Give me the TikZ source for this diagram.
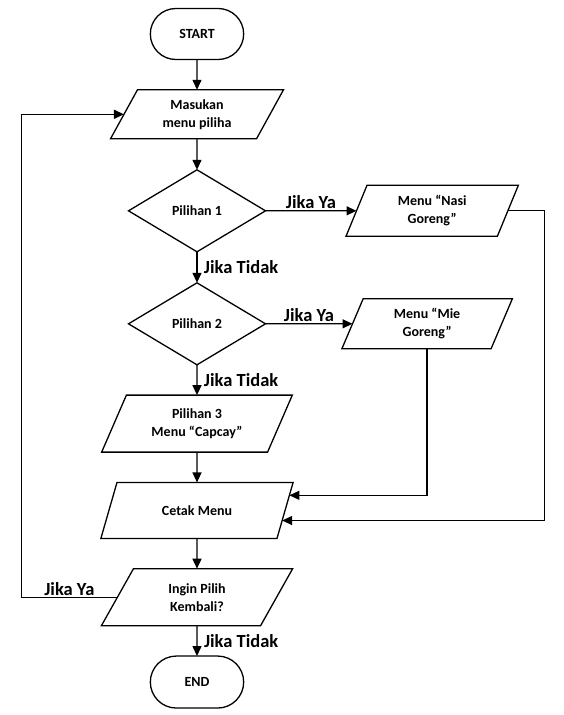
\documentclass[tikz,border=0pt]{standalone}
\usepackage{fontspec}
\setmainfont{Carlito}
\usetikzlibrary{positioning,arrows.meta,shapes.geometric,shapes.misc,calc}
\tikzset{
  every node/.style={outer sep=0pt},
  term/.style={draw, rounded rectangle, minimum width=100pt, minimum height=51pt, line width=1.3pt, font=\fontsize{14}{18}\selectfont\bfseries},
  io/.style={draw, trapezium, trapezium left angle=65, trapezium right angle=115, trapezium stretches=true, line width=1.3pt, align=center, font=\fontsize{14}{18}\selectfont\bfseries},
  ioR/.style={io, trapezium left angle=72, trapezium right angle=108},
  dec/.style={draw, diamond, minimum width=137pt, minimum height=82pt, inner sep=0pt, line width=1.3pt, font=\fontsize{14}{18}\selectfont\bfseries},
  lbl/.style={font=\fontsize{18.5}{20}\selectfont\bfseries, inner sep=2pt},
  arr/.style={-{Triangle[length=10pt, width=9pt]}, line width=1.3pt},
}
\begin{document}
\begin{tikzpicture}[node distance=30.3pt]
\useasboundingbox (-197pt,34pt) rectangle (366pt,-681pt);
\node[term] (start) {START};
\node[io, below=of start, minimum width=173pt, minimum height=49pt] (input) {Masukan\\menu piliha};
\node[dec, below=31pt of input] (p1) {Pilihan 1};
\node[dec, below=31pt of p1] (p2) {Pilihan 2};
\node[io, below=of p2, minimum width=191pt, minimum height=57pt] (p3) {Pilihan 3\\Menu “Capcay”};
\node[io, below=of p3, minimum width=193pt, minimum height=56pt] (cetak) {Cetak Menu};
\node[io, below=of cetak, minimum width=193pt, minimum height=57pt] (ulang) {Ingin Pilih\\Kembali?};
\node[term, below=of ulang, minimum height=52pt] (stop) {END};
\node[ioR, right=91pt of p1, minimum width=173pt, minimum height=51pt] (nasi) {Menu “Nasi\\Goreng”};
\node[ioR, right=87pt of p2, minimum width=172pt, minimum height=50pt] (mie) {Menu “Mie\\Goreng”};
\coordinate (c1) at ($(cetak.top right corner)!0.23!(cetak.bottom right corner)$);
\coordinate (c2) at ($(cetak.top right corner)!0.68!(cetak.bottom right corner)$);
\coordinate (nr) at ([xshift=37pt]nasi.right side);
\coordinate (lp) at ([xshift=-96pt]ulang.left side);
\draw[arr] (start) -- (input); \draw[arr] (input) -- (p1);
\draw[arr] (p1) -- node[lbl, right, xshift=5pt] {Jika Tidak} (p2);
\draw[arr] (p2) -- node[lbl, right, xshift=5pt] {Jika Tidak} (p3);
\draw[arr] (p1) -- node[lbl, above] {Jika Ya} (nasi);
\draw[arr] (p2) -- node[lbl, above] {Jika Ya} (mie);
\draw[arr] (p3) -- (cetak); \draw[arr] (cetak) -- (ulang);
\draw[arr] (mie.south) |- (c1);
\draw[arr] (nasi.right side) -- (nr) |- (c2);
\draw[arr] (ulang.left side) -- node[lbl, above] {Jika Ya} (lp) |- (input.left side);
\draw[arr] (ulang) -- node[lbl, right, xshift=5pt] {Jika Tidak} (stop);
\end{tikzpicture}
\end{document}
